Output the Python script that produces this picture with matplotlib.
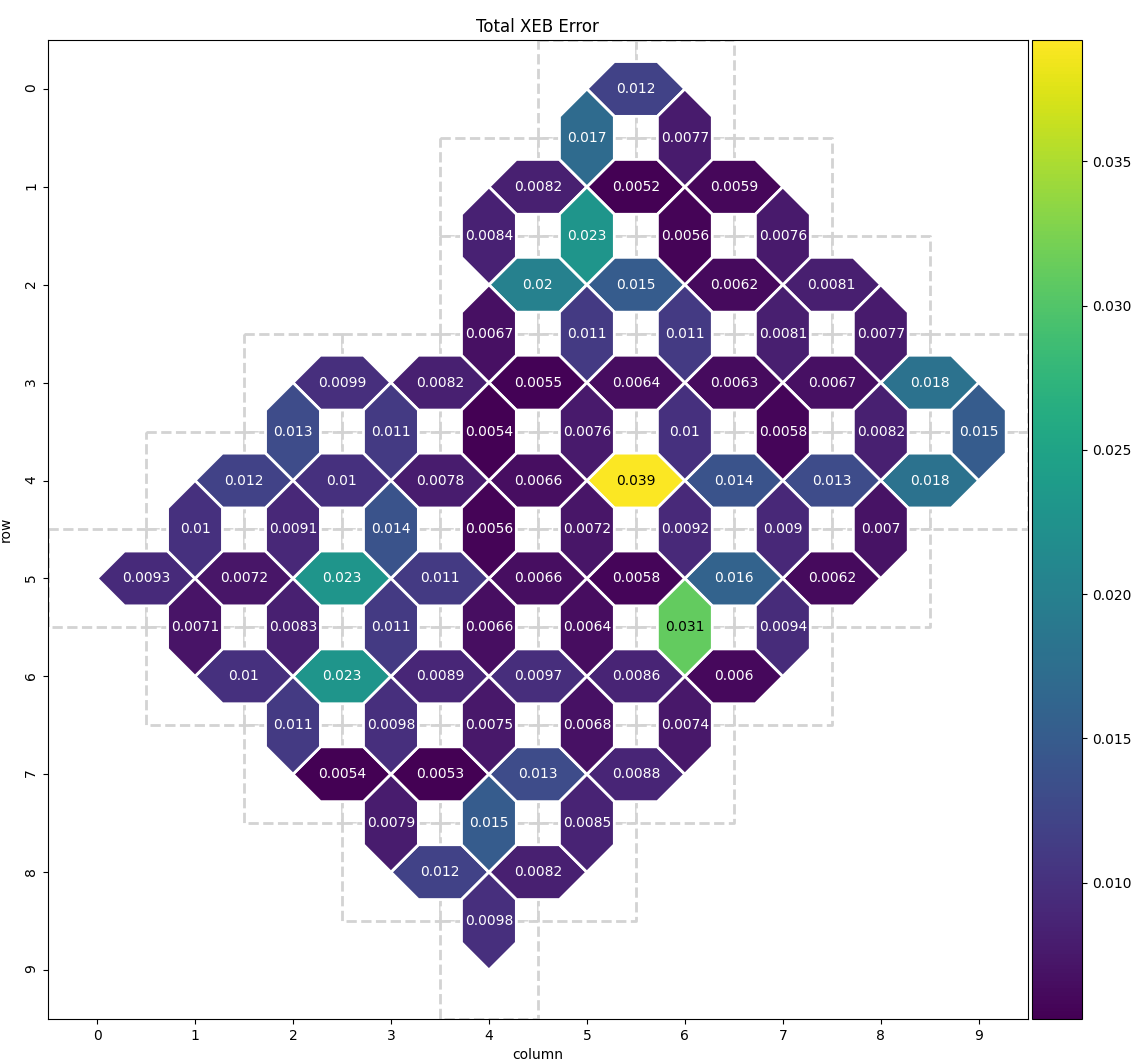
import matplotlib.pyplot as plt
from matplotlib.collections import PolyCollection
from matplotlib.colors import Normalize

# horizontal couplers (r, c)-(r, c+1): grid row, first column, errors left to right
h_rows = [0, 1, 2, 3, 4, 5, 6, 7, 8]
h_first_col = [5, 4, 4, 2, 1, 0, 1, 2, 3]
h_errors = [
    [0.012],
    [0.0082, 0.0052, 0.0059],
    [0.02, 0.015, 0.0062, 0.0081],
    [0.0099, 0.0082, 0.0055, 0.0064, 0.0063, 0.0067, 0.018],
    [0.012, 0.01, 0.0078, 0.0066, 0.039, 0.014, 0.013, 0.018],
    [0.0093, 0.0072, 0.023, 0.011, 0.0066, 0.0058, 0.016, 0.0062],
    [0.01, 0.023, 0.0089, 0.0097, 0.0086, 0.006],
    [0.0054, 0.0053, 0.013, 0.0088],
    [0.012, 0.0082],
]

# vertical couplers (r, c)-(r+1, c): upper row, first column, errors left to right
v_rows = [0, 1, 2, 3, 4, 5, 6, 7, 8]
v_first_col = [5, 4, 4, 2, 1, 1, 2, 3, 4]
v_errors = [
    [0.017, 0.0077],
    [0.0084, 0.023, 0.0056, 0.0076],
    [0.0067, 0.011, 0.011, 0.0081, 0.0077],
    [0.013, 0.011, 0.0054, 0.0076, 0.01, 0.0058, 0.0082, 0.015],
    [0.01, 0.0091, 0.014, 0.0056, 0.0072, 0.0092, 0.009, 0.007],
    [0.0071, 0.0083, 0.011, 0.0066, 0.0064, 0.031, 0.0094],
    [0.011, 0.0098, 0.0075, 0.0068, 0.0074],
    [0.0079, 0.015, 0.0085],
    [0.0098],
]

# unrounded extremes of the colour scale
err_min, err_max = 0.00528, 0.0392

half = 0.28  # half width of a coupler polygon


def coupler_polygon(r, c, horizontal):
    if horizontal:
        return [(c, r), (c + half, r - half), (c + 1 - half, r - half),
                (c + 1, r), (c + 1 - half, r + half), (c + half, r + half)]
    return [(c, r), (c + half, r + half), (c + half, r + 1 - half),
            (c, r + 1), (c - half, r + 1 - half), (c - half, r + half)]


polys, values, centers, qubits = [], [], [], set()
for r, c0, errs in zip(h_rows, h_first_col, h_errors):
    for i, v in enumerate(errs):
        c = c0 + i
        polys.append(coupler_polygon(r, c, True))
        values.append(v)
        centers.append((c + 0.5, r))
        qubits.update([(r, c), (r, c + 1)])
for r, c0, errs in zip(v_rows, v_first_col, v_errors):
    for i, v in enumerate(errs):
        c = c0 + i
        polys.append(coupler_polygon(r, c, False))
        values.append(v)
        centers.append((c, r + 0.5))
        qubits.update([(r, c), (r + 1, c)])

fig = plt.figure(figsize=(11.36, 10.61), dpi=100)
ax = fig.add_axes([0.0423, 0.0396, 0.8624, 0.9227])
cax = fig.add_axes([0.9087, 0.0396, 0.0440, 0.9227])

# qubit cells as dashed grey squares underneath
squares = [[(c - 0.5, r - 0.5), (c + 0.5, r - 0.5), (c + 0.5, r + 0.5), (c - 0.5, r + 0.5)]
           for r, c in sorted(qubits)]
ax.add_collection(PolyCollection(squares, facecolors='white', edgecolors='lightgrey',
                                 linestyles='dashed', linewidths=2, zorder=1))

norm = Normalize(vmin=err_min, vmax=err_max)
coll = PolyCollection(polys, array=values, cmap='viridis', norm=norm,
                      edgecolors='white', linewidths=2, zorder=2)
ax.add_collection(coll)

# annotate each coupler, dark text on light colours
cmap = plt.get_cmap('viridis')
for (x, y), v in zip(centers, values):
    r, g, b, _ = cmap(norm(v))
    color = 'black' if 0.299 * r + 0.587 * g + 0.114 * b > 0.55 else 'white'
    ax.text(x, y, format(v, '.2g'), ha='center', va='center', fontsize=10,
            color=color, zorder=3)

ax.set_xlim(-0.5, 9.5)
ax.set_ylim(9.5, -0.5)
ax.set_xticks(range(10))
ax.set_yticks(range(10))
ax.tick_params(axis='y', labelrotation=90)
ax.set_title('Total XEB Error')
ax.set_xlabel('column')
ax.set_ylabel('row')
ax.yaxis.set_label_coords(-0.036, 0.5)

fig.colorbar(coll, cax=cax)

fig.savefig('out.png', dpi=100)
